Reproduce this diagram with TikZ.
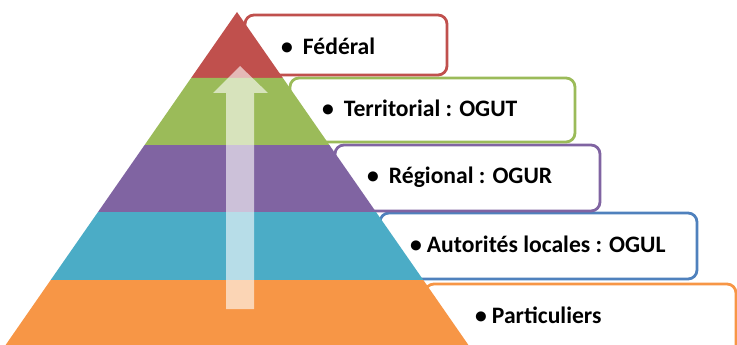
\documentclass[tikz,border=0pt]{standalone}
\usepackage{fontspec}
\setmainfont{Carlito}
\definecolor{cRed}{HTML}{C0504D}
\definecolor{cGreen}{HTML}{9BBB59}
\definecolor{cPurple}{HTML}{8064A2}
\definecolor{cTeal}{HTML}{4BACC6}
\definecolor{cBlue}{HTML}{4F81BD}
\definecolor{cOrange}{HTML}{F79646}
\begin{document}
\begin{tikzpicture}[x=1pt,y=-1pt,
  levelbox/.style={draw=#1,line width=2.8pt,fill=white,rounded corners=9pt},
  band/.style={fill=#1,draw=none},
  lbl/.style={anchor=base west,inner sep=0pt,font=\fontsize{23.6}{28}\selectfont\bfseries},
  uparrow/.style={fill=white,fill opacity=0.6,draw=none}]
\useasboundingbox (0,0) rectangle (737,345);
\clip (0,0) rectangle (737,345);
% boxes behind the pyramid
\draw[levelbox=cOrange] (425,284) rectangle (736,380);
\draw[levelbox=cBlue] (380,213) rectangle (697,279);
\draw[levelbox=cPurple] (335,145) rectangle (600,211);
\draw[levelbox=cGreen] (290,78) rectangle (575,142);
\draw[levelbox=cRed] (245,15) rectangle (447,75);
% pyramid bands
\fill[band=cRed] (237,12) -- (282.9,78) -- (191.1,78) -- cycle;
\fill[band=cGreen] (191.1,78) -- (282.9,78) -- (329.4,145) -- (144.6,145) -- cycle;
\fill[band=cPurple] (144.6,145) -- (329.4,145) -- (376,212) -- (98,212) -- cycle;
\fill[band=cTeal] (98,212) -- (376,212) -- (423.3,280) -- (50.7,280) -- cycle;
\fill[band=cOrange] (50.7,280) -- (423.3,280) -- (469.1,346) -- (4.9,346) -- cycle;
% arrow
\fill[uparrow] (226,309) -- (226,93) -- (213,93) -- (240,66) -- (268,93) -- (254,93) -- (254,309) -- cycle;
% labels
\node[lbl] (l1) at (281,55) {•\hspace{10pt}Fédéral};
\node[lbl] (l2) at (322,117) {•\hspace{10pt}Territorial : OGUT};
\node[lbl] (l3) at (367,183) {•\hspace{10pt}Régional : OGUR};
\node[lbl] (l4) at (410,252) {•\hspace{5pt}Autorités locales : OGUL};
\node[lbl] (l5) at (475,323) {•\hspace{5pt}Particuliers};
\end{tikzpicture}
\end{document}
